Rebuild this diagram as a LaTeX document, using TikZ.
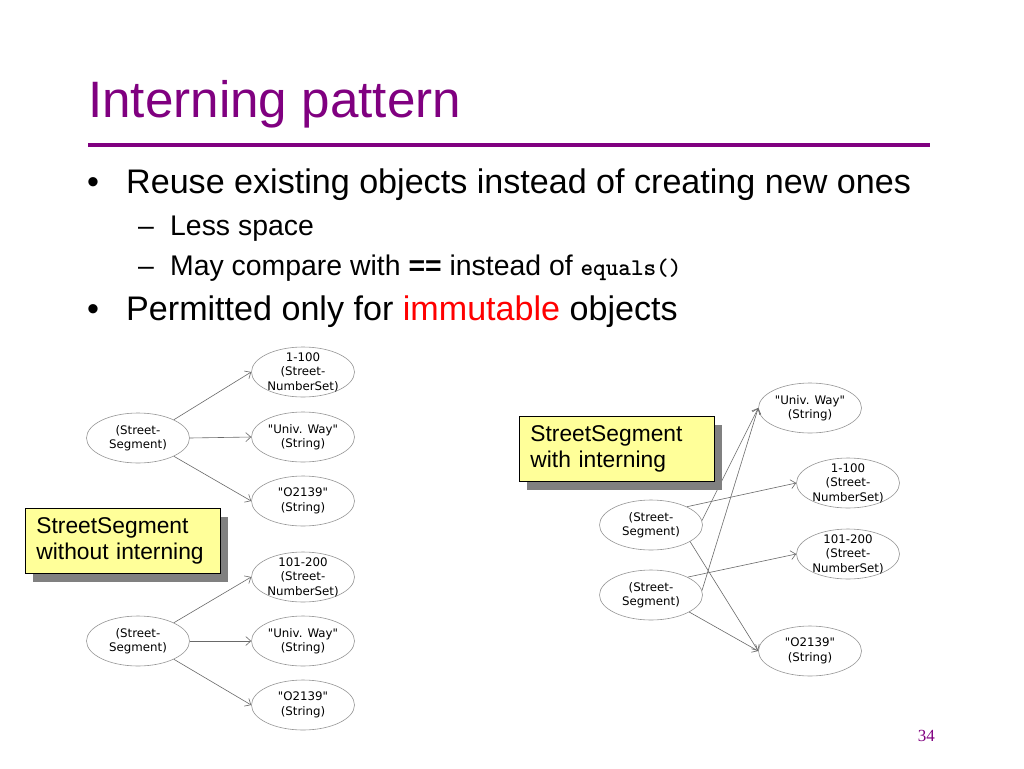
\documentclass[tikz,border=0pt]{standalone}
\usepackage{fontspec}
\setmainfont{Liberation Sans}
\newfontfamily\dejavu{DejaVu Sans}
\newfontfamily\lserif{Liberation Serif}
\usetikzlibrary{shapes.geometric,arrows.meta,shadows}
\definecolor{ttlpurple}{RGB}{128,0,128}
\definecolor{boxyellow}{RGB}{255,255,153}
\definecolor{ellgray}{RGB}{150,150,150}
\definecolor{arrgray}{RGB}{105,105,105}
\definecolor{immred}{RGB}{255,0,0}
\begin{document}
\begin{tikzpicture}[x=1pt,y=-1pt,
  obj/.style={ellipse,draw=ellgray,line width=0.6pt,minimum width=103pt,minimum height=50pt,inner sep=0pt},
  objtext/.style={font=\dejavu\fontsize{11.8}{14.5}\selectfont,align=center,inner sep=0pt},
  link/.style={draw=arrgray,line width=0.6pt,-{Straight Barb[length=5pt,width=9pt]}},
  notebox/.style={draw=black,line width=0.8pt,fill=boxyellow,anchor=north west,inner xsep=11pt,text width=173pt,minimum height=65pt,align=left,font=\fontsize{22.8}{25.5}\selectfont,drop shadow={fill=black!50,opacity=1,shadow xshift=8pt,shadow yshift=-9pt}},
  ttl/.style={anchor=base west,inner sep=0pt,text=ttlpurple,font=\fontsize{51.2}{60}\selectfont},
  lvlone/.style={anchor=base west,inner sep=0pt,font=\fontsize{34.1}{40}\selectfont},
  lvltwo/.style={anchor=base west,inner sep=0pt,font=\fontsize{28.4}{34}\selectfont},
  pgnum/.style={anchor=base east,inner sep=0pt,text=ttlpurple,font=\lserif\fontsize{17}{20}\selectfont}
]
\useasboundingbox (0,0) rectangle (1024,768);
\fill[white] (0,0) rectangle (1024,768);

% title and rule
\node[ttl] (title) at (88,117) {Interning pattern};
\coordinate (ruleL) at (88,145);
\coordinate (ruleR) at (930,145);
\draw[ttlpurple,line width=4pt] (ruleL) -- (ruleR);

% bullets
\node[lvlone] (b1) at (87,193) {•};
\node[lvlone] (t1) at (126,193) {Reuse existing objects instead of creating new ones};
\node[lvltwo] (d1) at (138,235) {–};
\node[lvltwo] (t2) at (170,235) {Less space};
\node[lvltwo] (d2) at (138,275) {–};
\node[lvltwo] (t3) at (170,275) {May compare with \textbf{==} instead of {\ttfamily\bfseries\fontsize{24}{28}\selectfont equals()}};
\node[lvlone] (b2) at (87,320) {•};
\node[lvlone] (t4) at (126,320) {Permitted only for \textcolor{immred}{immutable} objects};

% left diagram, upper group
\node[obj] (ls1) at (138,438) {};
\node[objtext] at (ls1) {(Street-\\Segment)};
\node[obj] (la1) at (303,372) {};
\node[objtext] at (la1) {1-100\\(Street-\\NumberSet)};
\node[obj] (lb1) at (303,437) {};
\node[objtext] at (lb1) {"Univ. Way"\\(String)};
\node[obj] (lc1) at (303,501) {};
\node[objtext] at (lc1) {"O2139"\\(String)};
\draw[link] (ls1.27) -- (la1.west);
\draw[link] (ls1.east) -- (lb1.west);
\draw[link] (ls1.-27) -- (lc1.west);

% left diagram, lower group
\node[obj] (ls2) at (138,641) {};
\node[objtext] at (ls2) {(Street-\\Segment)};
\node[obj] (la2) at (303,577) {};
\node[objtext] at (la2) {101-200\\(Street-\\NumberSet)};
\node[obj] (lb2) at (303,641) {};
\node[objtext] at (lb2) {"Univ. Way"\\(String)};
\node[obj] (lc2) at (303,705) {};
\node[objtext] at (lc2) {"O2139"\\(String)};
\draw[link] (ls2.27) -- (la2.west);
\draw[link] (ls2.east) -- (lb2.west);
\draw[link] (ls2.-27) -- (lc2.west);

\node[notebox] (nbL) at (25,508) {StreetSegment\\without interning};

% right diagram
\node[obj] (ru) at (810,408) {};
\node[objtext] at (ru) {"Univ. Way"\\(String)};
\node[obj] (ra) at (848,483) {};
\node[objtext] at (ra) {1-100\\(Street-\\NumberSet)};
\node[obj] (rb) at (848,554) {};
\node[objtext] at (rb) {101-200\\(Street-\\NumberSet)};
\node[obj] (rc) at (810,651) {};
\node[objtext] at (rc) {"O2139"\\(String)};
\node[obj] (rs1) at (651,525) {};
\node[objtext] at (rs1) {(Street-\\Segment)};
\node[obj] (rs2) at (651,595) {};
\node[objtext] at (rs2) {(Street-\\Segment)};
\draw[link] (rs1.27) -- (ra.west);
\draw[link] (rs1.5) -- (ru.west);
\draw[link] (rs1.-23) -- (rc.west);
\draw[link] (rs2.26) -- (rb.west);
\draw[link] (rs2.5) -- (ru.west);
\draw[link] (rs2.-24) -- (rc.west);

\node[notebox] (nbR) at (519,416) {StreetSegment\\with interning};

\node[pgnum] (pg) at (935,741) {34};
\end{tikzpicture}
\end{document}
